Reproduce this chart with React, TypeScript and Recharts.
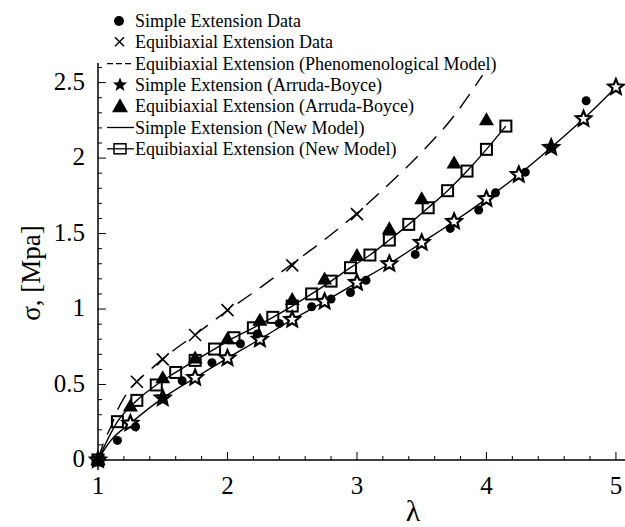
import {
  ComposedChart,
  Line,
  Scatter,
  XAxis,
  YAxis,
  ReferenceLine,
} from 'recharts';

// stretch λ and stress σ [MPa]
const simpleDataLambda = [1, 1.15, 1.29, 1.5, 1.65, 1.88, 2.1, 2.23, 2.4, 2.65, 2.8, 2.95, 3.07, 3.45, 3.72, 3.94, 4.07, 4.3, 4.5, 4.77];
const simpleDataStress = [0, 0.13, 0.22, 0.41, 0.525, 0.645, 0.77, 0.835, 0.905, 1.015, 1.066, 1.11, 1.19, 1.362, 1.534, 1.656, 1.77, 1.907, 2.07, 2.38];

const biaxDataLambda = [1, 1.3, 1.5, 1.75, 2, 2.5, 3];
const biaxDataStress = [0, 0.518, 0.667, 0.828, 0.993, 1.289, 1.629];

const phenoLambda = [1, 1.05, 1.1, 1.15, 1.2, 1.3, 1.4, 1.5, 1.75, 2, 2.25, 2.5, 2.75, 3, 3.25, 3.5, 3.75, 3.97];
const phenoStress = [0, 0.13, 0.22, 0.33, 0.41, 0.52, 0.595, 0.67, 0.83, 0.99, 1.14, 1.3, 1.46, 1.635, 1.83, 2.04, 2.28, 2.55];

const abSimpleLambda = [1, 1.25, 1.5, 1.75, 2, 2.25, 2.5, 2.75, 3, 3.25, 3.5, 3.75, 4, 4.25, 4.5, 4.75, 5];
const abSimpleStress = [0, 0.243, 0.41, 0.545, 0.675, 0.8, 0.93, 1.05, 1.175, 1.3, 1.44, 1.58, 1.73, 1.89, 2.07, 2.26, 2.47];

const abBiaxLambda = [1, 1.25, 1.5, 1.75, 2, 2.25, 2.5, 2.75, 3, 3.25, 3.5, 3.75, 4];
const abBiaxStress = [0, 0.355, 0.541, 0.673, 0.8, 0.923, 1.06, 1.196, 1.351, 1.528, 1.728, 1.965, 2.25];

const newSimpleLambda = [1, 1.05, 1.1, 1.25, 1.5, 1.75, 2, 2.25, 2.5, 2.75, 3, 3.25, 3.5, 3.75, 4, 4.25, 4.5, 4.75, 5];
const newSimpleStress = [0, 0.07, 0.13, 0.243, 0.41, 0.545, 0.675, 0.8, 0.93, 1.05, 1.175, 1.3, 1.44, 1.58, 1.73, 1.89, 2.07, 2.26, 2.47];

const newBiaxLambda = [1, 1.15, 1.3, 1.45, 1.6, 1.75, 1.9, 2.05, 2.2, 2.35, 2.5, 2.65, 2.8, 2.95, 3.1, 3.25, 3.4, 3.55, 3.7, 3.85, 4, 4.15];
const newBiaxStress = [0, 0.254, 0.395, 0.497, 0.58, 0.66, 0.735, 0.81, 0.876, 0.945, 1.02, 1.1, 1.185, 1.274, 1.358, 1.457, 1.561, 1.671, 1.784, 1.914, 2.058, 2.212];

const xMajorTicks = [1, 2, 3, 4, 5];
const xMinorTicks = [1.2, 1.4, 1.6, 1.8, 2.2, 2.4, 2.6, 2.8, 3.2, 3.4, 3.6, 3.8, 4.2, 4.4, 4.6, 4.8];
const yMajorTicks = [0, 0.5, 1, 1.5, 2, 2.5];
const yTickLabels = ['0', '0.5', '1', '1.5', '2', '2.5'];
const yMinorTicks = [0.1, 0.2, 0.3, 0.4, 0.6, 0.7, 0.8, 0.9, 1.1, 1.2, 1.3, 1.4, 1.6, 1.7, 1.8, 1.9, 2.1, 2.2, 2.3, 2.4, 2.6];

const legendLabels = [
  'Simple Extension Data',
  'Equibiaxial Extension Data',
  'Equibiaxial Extension (Phenomenological Model)',
  'Simple Extension (Arruda-Boyce)',
  'Equibiaxial Extension (Arruda-Boyce)',
  'Simple Extension (New Model)',
  'Equibiaxial Extension (New Model)',
];

const zip = (xs: number[], ys: number[]) => xs.map((x, i) => ({ x, y: ys[i] }));

const simpleData = zip(simpleDataLambda, simpleDataStress);
const biaxData = zip(biaxDataLambda, biaxDataStress);
const phenoData = zip(phenoLambda, phenoStress);
const abSimple = zip(abSimpleLambda, abSimpleStress);
const abBiax = zip(abBiaxLambda, abBiaxStress);
const newSimple = zip(newSimpleLambda, newSimpleStress);
const newBiax = zip(newBiaxLambda, newBiaxStress);

const FONT = 'Liberation Serif, Times New Roman, DejaVu Serif, serif';
const INK = '#000';

function starPath(cx: number, cy: number, R: number, r: number) {
  let d = '';
  for (let i = 0; i < 10; i++) {
    const a = ((-90 + i * 36) * Math.PI) / 180;
    const rad = i % 2 === 0 ? R : r;
    d += `${i === 0 ? 'M' : 'L'}${cx + rad * Math.cos(a)},${cy + rad * Math.sin(a)}`;
  }
  return d + 'Z';
}

const Dot = ({ cx, cy }: any) => <circle cx={cx} cy={cy} r={4.5} fill={INK} />;

const Cross = ({ cx, cy }: any) => (
  <path
    d={`M${cx - 6},${cy - 6}L${cx + 6},${cy + 6}M${cx - 6},${cy + 6}L${cx + 6},${cy - 6}`}
    stroke={INK}
    strokeWidth={1.6}
  />
);

const Star = ({ cx, cy }: any) => (
  <path d={starPath(cx, cy, 8, 3.6)} fill="#fff" stroke={INK} strokeWidth={2.2} strokeLinejoin="miter" />
);

const Triangle = ({ cx, cy }: any) => (
  <path d={`M${cx},${cy - 8}L${cx + 7.5},${cy + 5}L${cx - 7.5},${cy + 5}Z`} fill={INK} />
);

const Square = ({ cx, cy, index }: any) => (
  <rect key={index} x={cx - 5.5} y={cy - 5.5} width={11} height={11} fill="none" stroke={INK} strokeWidth={2} />
);

function XTick({ x, y, payload }: any) {
  const major = xMajorTicks.includes(payload.value);
  return (
    <g>
      <line x1={x} y1={y} x2={x} y2={y - (major ? 8 : 4)} stroke={INK} strokeWidth={1} />
      {major && (
        <text x={x} y={y + 34} textAnchor="middle" fontFamily={FONT} fontSize={25} fill={INK}>
          {payload.value}
        </text>
      )}
    </g>
  );
}

function YTick({ x, y, payload }: any) {
  const idx = yMajorTicks.indexOf(payload.value);
  const major = idx >= 0;
  return (
    <g>
      <line x1={x} y1={y} x2={x + (major ? 8 : 4)} y2={y} stroke={INK} strokeWidth={1} />
      {major && (
        <text x={x - 13} y={y + 7} textAnchor="end" fontFamily={FONT} fontSize={25} fill={INK}>
          {yTickLabels[idx]}
        </text>
      )}
    </g>
  );
}

function LegendBox() {
  const rowY = (i: number) => 21 + i * 21.3;
  const sx = 120;
  return (
    <svg width={625} height={180} style={{ position: 'absolute', left: 0, top: 0, pointerEvents: 'none' }}>
      <circle cx={sx - 1} cy={rowY(0)} r={5} fill={INK} />
      <path
        d={`M${sx - 5},${rowY(1) - 5}L${sx + 4},${rowY(1) + 4}M${sx - 5},${rowY(1) + 4}L${sx + 4},${rowY(1) - 5}`}
        stroke={INK}
        strokeWidth={1.5}
      />
      <line x1={107} x2={134} y1={rowY(2)} y2={rowY(2)} stroke={INK} strokeWidth={1.3} strokeDasharray="6 3" />
      <path d={starPath(sx, rowY(3), 7.5, 3.2)} fill={INK} />
      <path d={`M${sx},${rowY(4) - 8}L${sx + 8},${rowY(4) + 6}L${sx - 8},${rowY(4) + 6}Z`} fill={INK} />
      <line x1={107} x2={134} y1={rowY(5)} y2={rowY(5)} stroke={INK} strokeWidth={1.3} />
      <line x1={107} x2={134} y1={rowY(6)} y2={rowY(6)} stroke={INK} strokeWidth={1.3} />
      <rect x={sx - 6} y={rowY(6) - 5} width={12} height={10} fill="none" stroke={INK} strokeWidth={1.5} />
      {legendLabels.map((label, i) => (
        <text key={label} x={135} y={rowY(i) + 6} fontFamily={FONT} fontSize={18} fill={INK}>
          {label}
        </text>
      ))}
    </svg>
  );
}

export default function App() {
  return (
    <div style={{ position: 'absolute', left: 0, top: 0, width: 625, height: 527, background: '#fff', fontFamily: FONT }}>
      <ComposedChart width={625} height={527} margin={{ top: 63, right: 0, bottom: 66, left: 97 }}>
        <XAxis
          type="number"
          dataKey="x"
          domain={[1, 5.07]}
          ticks={[...xMajorTicks, ...xMinorTicks].sort((a, b) => a - b)}
          interval={0}
          height={1}
          tickSize={0}
          tickMargin={0}
          axisLine={{ stroke: INK, strokeWidth: 1.5 }}
          tickLine={false}
          tick={<XTick />}
        />
        <YAxis
          type="number"
          dataKey="y"
          domain={[0, 2.63]}
          ticks={[...yMajorTicks, ...yMinorTicks].sort((a, b) => a - b)}
          interval={0}
          width={1}
          tickSize={0}
          tickMargin={0}
          axisLine={{ stroke: INK, strokeWidth: 1.5 }}
          tickLine={false}
          tick={<YTick />}
        />
        <ReferenceLine
          segment={[{ x: 1, y: 0 }, { x: 1, y: -0.066 }]}
          stroke={INK}
          strokeWidth={1.5}
          ifOverflow="visible"
        />
        <ReferenceLine
          segment={[{ x: 0.954, y: 0 }, { x: 1, y: 0 }]}
          stroke={INK}
          strokeWidth={1.5}
          ifOverflow="visible"
        />
        <Line
          data={phenoData}
          dataKey="y"
          type="monotone"
          stroke={INK}
          strokeWidth={1.4}
          strokeDasharray="17 10"
          dot={false}
          isAnimationActive={false}
        />
        <Line
          data={newSimple}
          dataKey="y"
          type="monotone"
          stroke={INK}
          strokeWidth={1.4}
          dot={false}
          isAnimationActive={false}
        />
        <Line
          data={newBiax}
          dataKey="y"
          type="monotone"
          stroke={INK}
          strokeWidth={1.4}
          dot={<Square />}
          isAnimationActive={false}
        />
        <Scatter data={abSimple} dataKey="y" shape={<Star />} isAnimationActive={false} />
        <Scatter data={abBiax} dataKey="y" shape={<Triangle />} isAnimationActive={false} />
        <Scatter data={biaxData} dataKey="y" shape={<Cross />} isAnimationActive={false} />
        <Scatter data={simpleData} dataKey="y" shape={<Dot />} isAnimationActive={false} />
        <text x={31} y={273} transform="rotate(-90 31 273)" textAnchor="middle" dominantBaseline="central" fontFamily={FONT} fontSize={27} fill={INK}>
          σ, [Mpa]
        </text>
        <text x={413} y={521} textAnchor="middle" fontFamily={FONT} fontSize={30} fill={INK}>
          λ
        </text>
      </ComposedChart>
      <LegendBox />
    </div>
  );
}
